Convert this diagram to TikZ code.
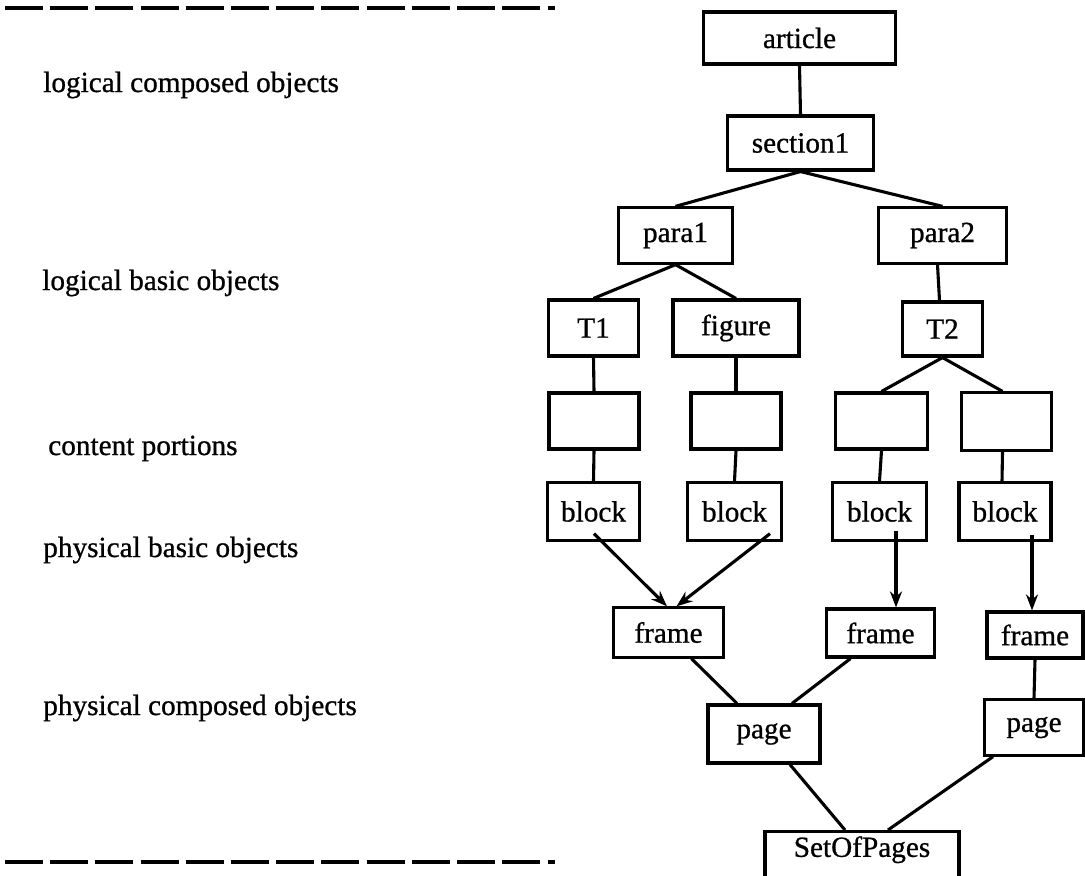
\documentclass[tikz,border=0pt]{standalone}
\usepackage{fontspec}
\setmainfont[FakeBold=0.8]{Liberation Serif}
\usetikzlibrary{calc,arrows.meta}

\tikzset{
    obj/.style={draw, line width=2.2pt, inner sep=0pt},
    lvl/.style={anchor=base west, inner sep=0pt},
    link/.style={line width=2.2pt},
    arr/.style={line width=2.2pt, -{Stealth[length=4mm,width=3mm]}},
    rule/.style={line width=2.8pt, dash pattern=on 0.95cm off 0.18cm},
    every node/.style={font=\fontsize{20.8}{25}\selectfont}
}

\begin{document}
\begin{tikzpicture}[x=0.025cm,y=-0.025cm]
        \useasboundingbox (0,0) rectangle (1085,875);

        \draw[rule] (5,8) -- (555,8);% top line
        \draw[rule] (5,862) -- (555,862);% bottom line

        \node[lvl] (lco) at (43,92) {logical composed objects};
        \node[lvl] (lbo) at (42,290) {logical basic objects};
        \node[lvl] (cpo) at (48,455) {content portions};
        \node[lvl] (pbo) at (43,557) {physical basic objects};
        \node[lvl] (pco) at (43,715) {physical composed objects};

        % logical structure
        \node[obj,minimum width=4.78cm,minimum height=1.30cm] (article) at (799.5,38) {article};
        \node[obj,minimum width=3.63cm,minimum height=1.35cm] (section1) at (800.5,143) {section1};
        \node[obj,minimum width=2.83cm,minimum height=1.38cm] (para1) at (675.5,235.5) {para1};
        \node[obj,minimum width=3.18cm,minimum height=1.38cm] (para2) at (942.5,235.5) {para2};
        \node[obj,minimum width=2.23cm,minimum height=1.40cm] (T1) at (593.5,328) {T1};
        \node[obj,minimum width=3.15cm,minimum height=1.40cm] (figure) at (736,328) {figure};
        \node[obj,minimum width=1.98cm,minimum height=1.35cm] (T2) at (942.5,329) {T2};

        % content portions
        \node[obj,minimum width=2.25cm,minimum height=1.40cm] (cp1) at (594,421) {};
        \node[obj,minimum width=2.25cm,minimum height=1.40cm] (cp2) at (736,421) {};
        \node[obj,minimum width=2.28cm,minimum height=1.40cm] (cp3) at (881.5,421) {};
        \node[obj,minimum width=2.23cm,minimum height=1.43cm] (cp4) at (1006.5,421.5) {};

        % layout structure
        \node[obj,minimum width=2.28cm,minimum height=1.43cm] (block1) at (593.5,511.5) {block};
        \node[obj,minimum width=2.33cm,minimum height=1.43cm] (block2) at (734.5,511.5) {block};
        \node[obj,minimum width=2.33cm,minimum height=1.43cm] (block3) at (879.5,511.5) {block};
        \node[obj,minimum width=2.30cm,minimum height=1.43cm] (block4) at (1005,511.5) {block};
        \node[obj,minimum width=2.73cm,minimum height=1.23cm] (frame1) at (668.5,632.5) {frame};
        \node[obj,minimum width=2.68cm,minimum height=1.20cm] (frame2) at (880.5,633) {frame};
        \node[obj,minimum width=2.40cm,minimum height=1.15cm] (frame3) at (1035,635) {frame};
        \node[obj,minimum width=2.80cm,minimum height=1.45cm] (page1) at (764,734) {page};
        \node[obj,minimum width=2.48cm,minimum height=1.38cm] (page2) at (1034,727.5) {page};
        \node[obj,minimum width=4.85cm,minimum height=1.30cm,text depth=0.55cm,anchor=north] (sop) at (862,830) {SetOfPages};

        \draw[link] (article.south) -- (section1.north);
        \draw[link] (section1.south) -- (para1.north);
        \draw[link] (section1.south) -- (para2.north);
        \draw[link] (para1.south) -- (T1.north);
        \draw[link] (para1.south) -- (figure.north);
        \draw[link] ($(para2.south)+(-5,0)$) -- ($(T2.north)+(-3,0)$);
        \draw[link] (T1.south) -- (cp1.north);
        \draw[link] (figure.south) -- (cp2.north);
        \draw[link] (T2.south) -- (cp3.north);
        \draw[link] (T2.south) -- ($(cp4.north)+(-4,0)$);
        \draw[link] (cp1.south) -- (block1.north);
        \draw[link] (cp2.south) -- (block2.north);
        \draw[link] (cp3.south) -- (block3.north);
        \draw[link] ($(cp4.south)+(-4,0)$) -- ($(block4.north)+(-3,0)$);

        \draw[arr] ($(block1.south)+(0.5,-8)$) -- ($(frame1.north)+(-1.5,0)$);
        \draw[arr] ($(block2.south)+(35.5,-8)$) -- ($(frame1.north)+(8,0)$);
        \draw[arr] ($(block3.south)+(16.5,-11)$) -- ($(frame2.north)+(15.5,0)$);
        \draw[arr] ($(block4.south)+(27,-7)$) -- ($(frame3.north)+(-3,0)$);

        \draw[link] ($(frame1.south)+(23,0)$) -- ($(page1.north)+(-27,0)$);
        \draw[link] ($(frame2.south)+(-30,0)$) -- ($(page1.north)+(28,0)$);
        \draw[link] (frame3.south) -- (page2.north);
        \draw[link] ($(page1.south)+(26,0)$) -- ($(sop.north)+(-17,0)$);
        \draw[link] ($(page2.south)+(-41,0)$) -- ($(sop.north)+(26,0)$);

\end{tikzpicture}
\end{document}
